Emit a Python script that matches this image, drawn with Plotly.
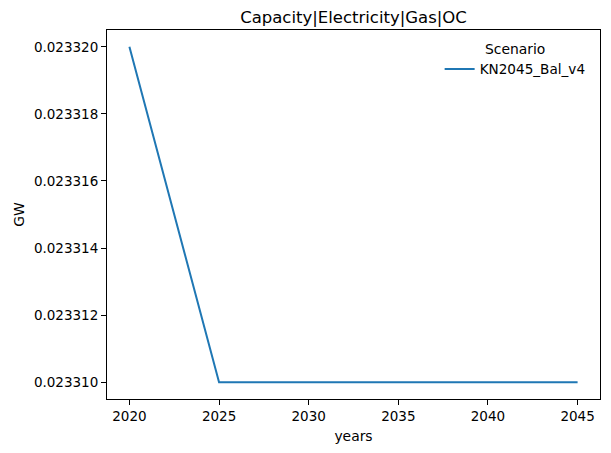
import plotly.graph_objects as go

years = [2020, 2025, 2030, 2035, 2040, 2045]
values = [0.02332, 0.02331, 0.02331, 0.02331, 0.02331, 0.02331]
series_name = "KN2045_Bal_v4"
x_ticks = [2020, 2025, 2030, 2035, 2040, 2045]
y_ticks = [0.02331, 0.023312, 0.023314, 0.023316, 0.023318, 0.02332]

font = "DejaVu Sans"
fig = go.Figure()
fig.add_trace(go.Scatter(x=years, y=values, mode="lines", name=series_name,
                         line=dict(color="#1f77b4", width=2)))

xr = (min(years) - 1.25, max(years) + 1.25)
span = max(values) - min(values)
yr = (min(values) - 0.05 * span, max(values) + 0.05 * span)

axis_common = dict(showline=True, linecolor="black", linewidth=1, mirror=True,
                   ticks="outside", ticklen=5, tickcolor="black", tickwidth=1,
                   showgrid=False, zeroline=False,
                   tickfont=dict(family=font, size=13.5, color="black"))

# page body has an 8px margin, so the figure is drawn 8px in from the top-left
W, H = 603, 445
fig.update_layout(
    width=W, height=H,
    margin=dict(l=98, r=10, t=22, b=54),
    paper_bgcolor="white", plot_bgcolor="white",
    title=dict(text="Capacity|Electricity|Gas|OC", x=(98 + 593) / 2 / W, xanchor="center",
               y=1 - 3 / H, yanchor="top", pad=dict(t=0, b=0),
               font=dict(family=font, size=16.5, color="black")),
    xaxis=dict(range=list(xr), tickvals=x_ticks, ticktext=[str(t) for t in x_ticks],
               title=dict(text="years", font=dict(family=font, size=13.9, color="black"), standoff=8),
               **axis_common),
    yaxis=dict(range=list(yr), tickvals=y_ticks, tickformat=".6f",
               title=dict(text="GW", font=dict(family=font, size=13.9, color="black"), standoff=6),
               **axis_common),
    showlegend=True,
    legend=dict(x=0.981, xanchor="right", y=0.985, yanchor="top",
                bgcolor="rgba(0,0,0,0)", borderwidth=0,
                title=dict(text="Scenario", side="top center",
                           font=dict(family=font, size=13.9, color="black")),
                font=dict(family=font, size=13.6, color="black")),
)

fig.write_html("out.html")
